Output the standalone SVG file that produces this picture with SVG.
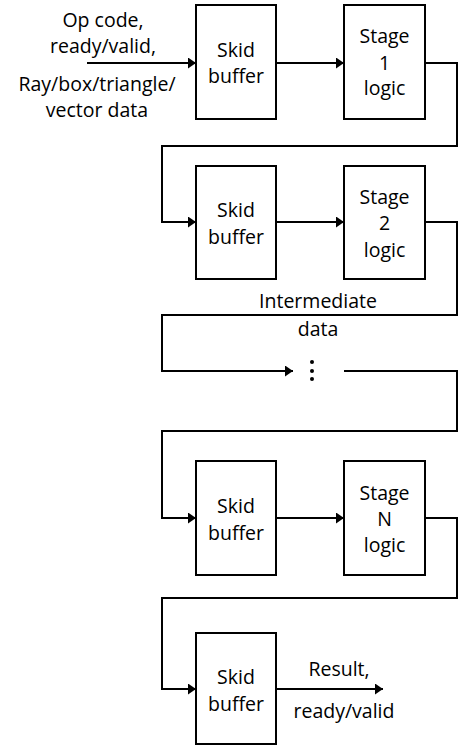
<svg xmlns="http://www.w3.org/2000/svg" width="459" height="746" viewBox="0 0 459 746">
<defs>
<marker id="ah" markerWidth="8" markerHeight="11" refX="8" refY="5.5" orient="auto" markerUnits="userSpaceOnUse">
<path d="M0,0 L8,5.5 L0,11 Z" fill="#000"/>
</marker>
<style>
.box{fill:#fff;stroke:#000;stroke-width:2}
.ln{fill:none;stroke:#000;stroke-width:2}
.t{font-family:"Open Sans","Liberation Sans",sans-serif;font-size:19.5px;fill:#000;text-anchor:middle}
</style>
</defs>
<rect width="459" height="746" fill="#fff"/>
<g id="connectors">
<line class="ln" x1="87" y1="63" x2="196" y2="63" marker-end="url(#ah)"/>
<line class="ln" x1="276" y1="63" x2="344" y2="63" marker-end="url(#ah)"/>
<polyline class="ln" points="425,63 457,63 457,146 162,146 162,222 196,222" marker-end="url(#ah)"/>
<line class="ln" x1="276" y1="222" x2="344" y2="222" marker-end="url(#ah)"/>
<polyline class="ln" points="425,222 457,222 457,315 162,315 162,371 293,371" marker-end="url(#ah)"/>
<polyline class="ln" points="344,371 457,371 457,431 162,431 162,518 196,518" marker-end="url(#ah)"/>
<line class="ln" x1="276" y1="518" x2="344" y2="518" marker-end="url(#ah)"/>
<polyline class="ln" points="425,518 457,518 457,598 162,598 162,689 196,689" marker-end="url(#ah)"/>
<line class="ln" x1="276" y1="689" x2="383" y2="689" marker-end="url(#ah)"/>
</g>
<g id="input-label">
<text class="t" x="103" y="27">Op code,</text>
<text class="t" x="103" y="53">ready/valid,</text>
<text class="t" x="97" y="91">Ray/box/triangle/</text>
<text class="t" x="97" y="117">vector data</text>
</g>
<g id="skid1">
<rect class="box" x="196" y="5" width="80" height="114"/>
<text class="t" x="236" y="57">Skid</text>
<text class="t" x="236" y="83">buffer</text>
</g>
<g id="stage1">
<rect class="box" x="344" y="5" width="81" height="114"/>
<text class="t" x="384.5" y="43">Stage</text>
<text class="t" x="384.5" y="70">1</text>
<text class="t" x="384.5" y="95">logic</text>
</g>
<g id="skid2">
<rect class="box" x="196" y="166" width="80" height="113"/>
<text class="t" x="236" y="217">Skid</text>
<text class="t" x="236" y="244">buffer</text>
</g>
<g id="stage2">
<rect class="box" x="344" y="166" width="81" height="113"/>
<text class="t" x="384.5" y="204">Stage</text>
<text class="t" x="384.5" y="230">2</text>
<text class="t" x="384.5" y="257">logic</text>
</g>
<g id="intermediate-label">
<text class="t" x="318" y="308">Intermediate</text>
<text class="t" x="318" y="336">data</text>
</g>
<g id="ellipsis">
<circle cx="312" cy="362" r="2"/>
<circle cx="312" cy="371" r="2"/>
<circle cx="312" cy="379" r="2"/>
</g>
<g id="skidN">
<rect class="box" x="196" y="461" width="80" height="114"/>
<text class="t" x="236" y="513">Skid</text>
<text class="t" x="236" y="540">buffer</text>
</g>
<g id="stageN">
<rect class="box" x="344" y="461" width="81" height="114"/>
<text class="t" x="384.5" y="500">Stage</text>
<text class="t" x="384.5" y="526">N</text>
<text class="t" x="384.5" y="552">logic</text>
</g>
<g id="skidFinal">
<rect class="box" x="196" y="633" width="80" height="111"/>
<text class="t" x="236" y="684">Skid</text>
<text class="t" x="236" y="711">buffer</text>
</g>
<g id="output-label">
<text class="t" x="339" y="676">Result,</text>
<text class="t" x="344" y="718">ready/valid</text>
</g>
</svg>
